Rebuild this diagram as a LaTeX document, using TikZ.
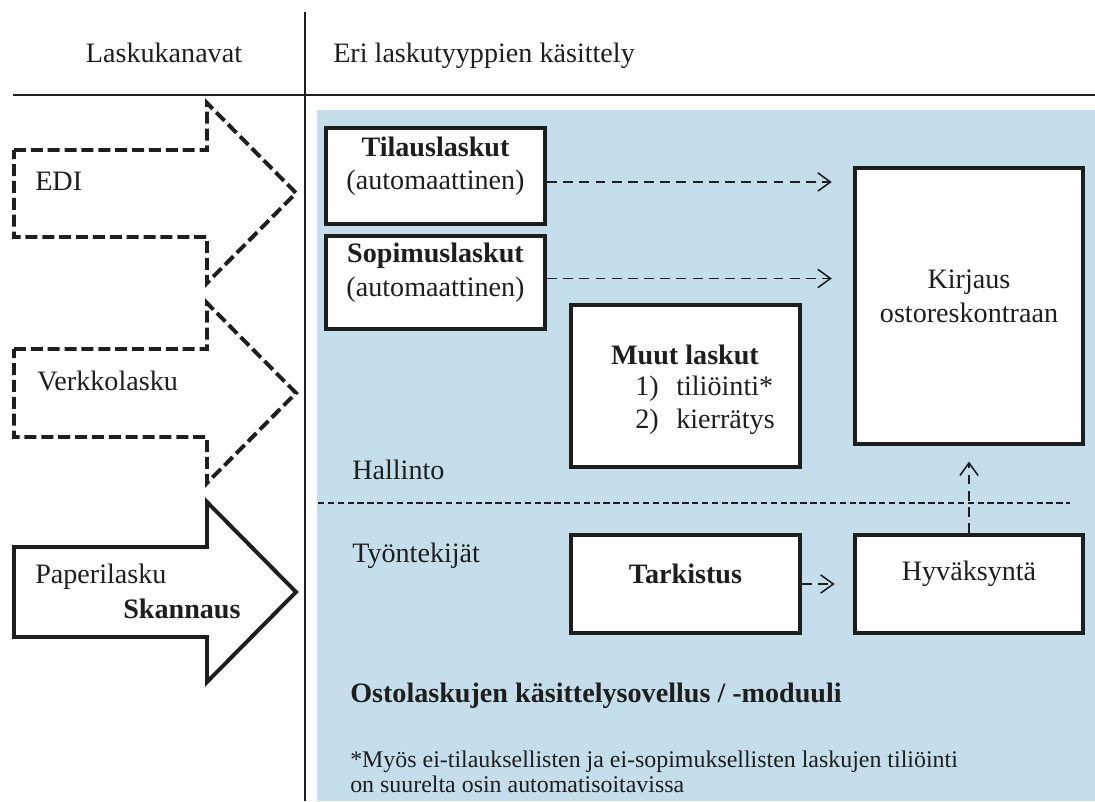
\documentclass[tikz,border=0pt]{standalone}
\usepackage{fontspec}
\setmainfont{Liberation Serif}
\usetikzlibrary{arrows.meta,fit,calc}
\definecolor{panelblue}{HTML}{C4DEEC}
\definecolor{ink}{HTML}{1E1E1E}
\begin{document}
\begin{tikzpicture}[x=0.025cm,y=-0.025cm,
  every node/.style={font=\fontsize{20pt}{24pt}\selectfont, text=ink},
  caption/.style={anchor=base west, inner sep=0pt},
  stage/.style={draw=ink, line width=3pt, fill=white, inner sep=0pt, align=center},
  oneline/.style={text height=1.6ex, text depth=0.1ex},
  channel/.style={draw=ink, line width=2.8pt, fill=white, line join=miter, miter limit=10},
  netchannel/.style={channel, dash pattern=on 8.5pt off 3.5pt},
  flow/.style={draw=ink, line width=1.1pt, dash pattern=on 7pt off 4.5pt,
    -{Straight Barb[length=9pt,width=13pt]}},
  rule/.style={draw=ink, line width=1pt},
  divider/.style={draw=ink, line width=1pt, dash pattern=on 4.5pt off 2.5pt},
]
\useasboundingbox (0,0) rectangle (1095,801);

% processing area background and header rules
\fill[panelblue] (317,110) rectangle (1095,801);
\draw[rule] (13,95) -- (1095,95);
\draw[rule] (305,12) -- (305,801);

% column headings
\node[anchor=base, inner sep=0pt] (hdrL) at (164,63) {Laskukanavat};
\node[caption] (hdrR) at (333,63) {Eri laskutyyppien käsittely};

% incoming invoice channels
\draw[netchannel] (14,150) -- (207,150) -- (207,103) -- (296,193) -- (207,283) -- (207,237) -- (14,237) -- cycle;
\draw[netchannel] (14,349) -- (207,349) -- (207,303) -- (296,393) -- (207,483) -- (207,437) -- (14,437) -- cycle;
\draw[channel] (14,547) -- (207,547) -- (207,502) -- (296,592) -- (207,682) -- (207,637) -- (14,637) -- cycle;
\node[caption] (edi) at (35,190) {EDI};
\node[caption] (verkko) at (37,390) {Verkkolasku};
\node[caption] (paperi) at (35,583) {Paperilasku};
\node[caption] (skannaus) at (123,618) {\textbf{Skannaus}};

% administration / employee split
\coordinate (divL) at (318,503);
\coordinate (divR) at (1070,503);
\draw[divider] (divL) -- (divR);
\node[caption] (hall) at (352,479) {Hallinto};
\node[caption] (tyon) at (352,562) {Työntekijät};

% processing stages
\node[stage, fit={(326,128) (545,224)}] (tilaus) {\textbf{Tilauslaskut}\\(automaattinen)};
\node[stage, fit={(326,236) (545,329)}] (sopimus) {\textbf{Sopimuslaskut}\\(automaattinen)};
\node[stage, fit={(855,168) (1083,444)}] (kirjaus) {Kirjaus\\ostoreskontraan};
\node[stage, fit={(571,305) (800,467)}] (muut) {};
\node[anchor=base, inner sep=0pt] (muutT) at (685,364) {\textbf{Muut laskut}};
\node[caption] (m1n) at (635,395) {1)};
\node[caption] (m1t) at (676,395) {tiliöinti*};
\node[caption] (m2n) at (635,428) {2)};
\node[caption] (m2t) at (676,428) {kierrätys};
\node[stage, oneline, fit={(571,535) (800,633)}] (tark) {\textbf{Tarkistus}};
\node[stage, oneline, fit={(855,535) (1083,633)}] (hyv) {Hyväksyntä};

% flows between stages
\coordinate (f1) at ($(tilaus.east)+(0,6)$);
\coordinate (f2) at ($(sopimus.east)+(0,-4)$);
\draw[flow, shorten >=15pt] (f1) -- (f1 -| kirjaus.west);
\draw[flow, shorten >=15pt] (f2) -- (f2 -| kirjaus.west);
\draw[flow, shorten >=13pt] (tark.east) -- (hyv.west);
\draw[flow, shorten >=11pt] (hyv.north) -- (kirjaus.south);

% application name and footnote
\node[caption] (app) at (350,702) {\textbf{Ostolaskujen käsittelysovellus / -moduuli}};
\node[caption, font=\fontsize{17pt}{20pt}\selectfont] (note1) at (350,767) {*Myös ei-tilauksellisten ja ei-sopimuksellisten laskujen tiliöinti};
\node[caption, font=\fontsize{17pt}{20pt}\selectfont] (note2) at (350,792) {on suurelta osin automatisoitavissa};
\end{tikzpicture}
\end{document}
